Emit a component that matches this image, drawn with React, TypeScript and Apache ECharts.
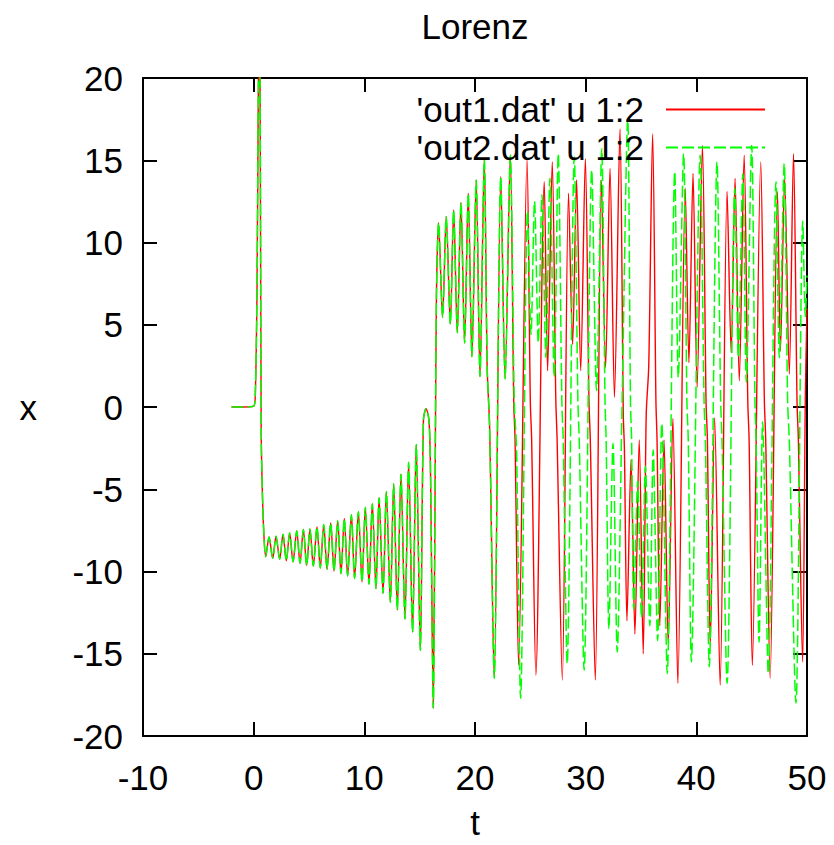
import React, { useEffect, useRef } from "react";
import * as echarts from "echarts";

const TITLE = "Lorenz";
const X_NAME = "t";
const Y_NAME = "x";
const SERIES_NAMES = ["'out1.dat' u 1:2", "'out2.dat' u 1:2"];
const X_RANGE = [-10, 50, 10];
const Y_RANGE = [-20, 20, 5];

// part shared by both runs (t, x)
const commonPts: [number, number][] = [
  [-2.0, 0], [-1.0, 0], [0.0, 0.05], [0.15, 0.8], [0.3, 7], [0.42, 19], [0.52, 24],
  [0.6, 16], [0.68, -1.5], [0.78, -5], [0.9, -7.4], [1.09, -9.1],
  [1.39, -7.9], [1.72, -9.2], [2.02, -7.85], [2.35, -9.26], [2.65, -7.73], [2.95, -9.35],
  [3.25, -7.65], [3.56, -9.41], [3.89, -7.53], [4.19, -9.5], [4.49, -7.45], [4.79, -9.63],
  [5.09, -7.41], [5.39, -9.67], [5.72, -7.29], [6.02, -9.79], [6.33, -7.15], [6.63, -9.87],
  [6.96, -7.05], [7.26, -9.97], [7.59, -6.91], [7.89, -10.13], [8.19, -6.77], [8.49, -10.27],
  [8.83, -6.55], [9.12, -10.43], [9.46, -6.37], [9.79, -10.63], [10.09, -6.1], [10.42, -10.77],
  [10.72, -5.88], [11.05, -11.04], [11.33, -5.52], [11.69, -11.32], [11.99, -5.14], [12.35, -11.88],
  [12.65, -4.67], [12.98, -12.35], [13.31, -4.09], [13.67, -12.89], [14.0, -3.36], [14.36, -13.7],
  [14.69, -2.28], [15.06, -14.8], [15.34, -0.8], [15.57, -0.1], [15.84, -0.8], [15.98, -4],
  [16.23, -18.3], [16.42, -2], [16.52, 7], [16.71, 11.2],
  [17.07, 5.44], [17.4, 11.58], [17.77, 5.04], [18.07, 11.98], [18.4, 4.51], [18.73, 12.43],
  [19.06, 3.89], [19.39, 12.99], [19.72, 3.06], [20.11, 13.8], [20.45, 1.85], [20.84, 15.1],
  [21.1, 2.4], [21.32, -1.2], [21.74, -16.5], [22.33, 14.0], [22.72, 1.7], [23.19, 15.3],
];

// out1.dat after the runs separate
const out1Tail: [number, number][] = [
  [23.5, 0.3], [23.62, -2], [23.94, -15.7],
  [24.7, 15.1], [25.0, 0.3], [25.12, -2], [25.5, -16.3],
  [26.26, 13.7], [26.56, 2.2], [26.98, 14.9], [27.3, 0.5], [27.42, -2], [27.89, -16.6],
  [28.45, 13.0], [28.82, 3.8], [29.18, 13.8], [29.55, 2.2], [29.97, 15.1], [30.3, 0.3], [30.42, -2], [30.87, -16.6],
  [31.42, 13.8], [31.8, 2.4], [32.2, 14.5], [32.6, 0.6], [33.1, 16.9], [33.4, -0.5], [33.5, -2.5], [33.73, -13.0],
  [34.1, -3.2], [34.45, -13.8], [34.84, -2.0], [35.2, -15.0],
  [35.47, -0.5], [35.7, 2.5], [36.05, 16.6], [36.35, 0.3], [36.45, -2], [36.7, -13.3], [37.08, -2.0], [37.46, -14.4],
  [37.88, -0.7], [38.33, -16.8],
  [39.0, 13.3], [39.33, 2.7], [39.7, 14.2], [40.07, 1.2], [40.55, 15.9], [40.88, 0.3], [41.0, -2], [41.26, -14.5],
  [41.65, -0.65], [42.15, -16.9],
  [42.78, 13.1], [43.15, 3.3], [43.5, 13.9], [43.88, 1.6], [44.32, 15.3], [44.65, 0.3], [44.77, -2], [45.06, -15.7],
  [45.82, 14.9], [46.15, 0.3], [46.27, -2], [46.67, -16.5],
  [47.33, 13.1], [47.6, 3.4], [47.98, 13.9], [48.4, 2.0], [48.78, 15.4], [49.1, 0.3], [49.22, -2], [49.6, -15.5],
  [49.85, 0.6], [50.0, 6],
];

// out2.dat after the runs separate
const out2Tail: [number, number][] = [
  [23.55, 0.3], [23.75, -2.5], [24.12, -17.7],
  [24.75, 11.9], [25.06, 4.4], [25.38, 12.5], [25.72, 3.9], [26.05, 12.9], [26.41, 3.0], [26.77, 13.9],
  [27.16, 1.8], [27.52, 15.4], [27.85, 0.3], [27.97, -2], [28.33, -15.6],
  [28.97, 15.2], [29.3, 0.3], [29.42, -2], [29.86, -16.0],
  [30.55, 14.4], [30.98, 1.0], [31.45, 15.7], [31.75, 0.3], [31.85, -2], [32.1, -13.5], [32.47, -2.2], [32.85, -14.9],
  [33.3, 0.6], [33.8, 17.5], [34.05, 0.3], [34.15, -2], [34.35, -12.3], [34.7, -4.5], [35.05, -12.8], [35.4, -3.6],
  [35.8, -13.3], [36.1, -2.6], [36.5, -14.2], [36.88, -1.0], [37.37, -16.2],
  [38.05, 14.3], [38.37, 1.8], [38.85, 15.4], [39.15, 0.3], [39.27, -2], [39.55, -15.5],
  [40.35, 15.3], [40.7, 0.3], [40.82, -2], [41.17, -15.8],
  [41.87, 14.9], [42.2, 0.3], [42.32, -2], [42.78, -16.8],
  [43.48, 13.3], [43.8, 3.0], [44.2, 14.2], [44.52, 1.5], [45.0, 15.9], [45.3, 0.3], [45.4, -2], [45.67, -14.3],
  [45.99, -0.9], [46.5, -16.2],
  [47.2, 13.7], [47.5, 3.0], [47.94, 14.8], [48.25, 0.3], [48.4, -2], [49.0, -18.0],
  [49.62, 11.3], [49.85, 5.5], [50.0, 8],
];

const FONT = "Liberation Sans, Arial, sans-serif";

export default function App() {
  const ref = useRef<HTMLDivElement>(null);
  useEffect(() => {
    document.body.style.margin = "0";
    document.body.style.overflow = "hidden";
    const chart = echarts.init(ref.current!, null, { renderer: "svg" });
    const axisLine = { show: true, onZero: false, lineStyle: { color: "#000", width: 2 } };
    const axisTick = { show: true, inside: true, length: 14, lineStyle: { color: "#000", width: 2 } };
    const label = { color: "#000", fontSize: 35, fontFamily: FONT };
    chart.setOption({
      animation: false,
      backgroundColor: "#fff",
      title: {
        text: TITLE,
        left: 470,
        textAlign: "center",
        top: 4,
        textStyle: { color: "#000", fontSize: 35, fontWeight: "normal", fontFamily: FONT },
      },
      legend: {
        orient: "vertical",
        right: 63,
        top: 87,
        align: "right",
        itemWidth: 99,
        itemHeight: 12,
        itemGap: 3,
        selectedMode: false,
        itemStyle: { opacity: 0, borderWidth: 0 },
        textStyle: { color: "#000", fontSize: 35, fontFamily: FONT, padding: [0, 17, 0, 0] },
        data: SERIES_NAMES,
      },
      grid: { left: 143, top: 78, right: 27, bottom: 104, containLabel: false },
      xAxis: [
        {
          type: "value",
          min: X_RANGE[0],
          max: X_RANGE[1],
          interval: X_RANGE[2],
          position: "bottom",
          axisLine,
          axisTick,
          splitLine: { show: false },
          axisLabel: { ...label, margin: 24 },
          name: X_NAME,
          nameLocation: "middle",
          nameGap: 69,
          nameTextStyle: label,
        },
        {
          type: "value",
          min: X_RANGE[0],
          max: X_RANGE[1],
          interval: X_RANGE[2],
          position: "top",
          axisLine,
          axisTick,
          splitLine: { show: false },
          axisLabel: { show: false },
        },
      ],
      yAxis: [
        {
          type: "value",
          min: Y_RANGE[0],
          max: Y_RANGE[1],
          interval: Y_RANGE[2],
          position: "left",
          axisLine,
          axisTick,
          splitLine: { show: false },
          axisLabel: { ...label, margin: 20 },
          name: Y_NAME,
          nameLocation: "middle",
          nameRotate: 0,
          nameGap: 106,
          nameTextStyle: label,
        },
        {
          type: "value",
          min: Y_RANGE[0],
          max: Y_RANGE[1],
          interval: Y_RANGE[2],
          position: "right",
          axisLine,
          axisTick,
          splitLine: { show: false },
          axisLabel: { show: false },
        },
      ],
      series: [
        {
          name: SERIES_NAMES[0],
          type: "line",
          data: [...commonPts, ...out1Tail],
          showSymbol: false,
          symbol: "none",
          smooth: 0.3,
          clip: true,
          lineStyle: { color: "#ff0000", width: 1.4 },
          itemStyle: { color: "#ff0000" },
          z: 2,
        },
        {
          name: SERIES_NAMES[1],
          type: "line",
          data: [...commonPts, ...out2Tail],
          showSymbol: false,
          symbol: "none",
          smooth: 0.3,
          clip: true,
          lineStyle: { color: "#00ff00", width: 1.5, type: [12, 4] },
          itemStyle: { color: "#00ff00" },
          z: 3,
        },
      ],
    });
    return () => chart.dispose();
  }, []);
  return <div ref={ref} style={{ width: 834, height: 845 }} />;
}
